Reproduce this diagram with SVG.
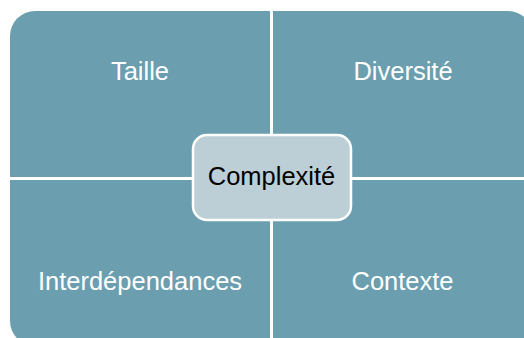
<svg xmlns="http://www.w3.org/2000/svg" width="524" height="338" viewBox="0 0 524 338">
<style>
.q{fill:#6b9faf;}
.lbl{font-family:"Liberation Sans",Arial,sans-serif;font-size:25.5px;fill:#ffffff;text-anchor:middle;}
.ctr{fill:#bccfd6;stroke:#ffffff;stroke-width:2.5;}
.ctxt{font-family:"Liberation Sans",Arial,sans-serif;font-size:25.5px;fill:#000000;text-anchor:middle;}
</style>
<rect width="524" height="338" fill="#ffffff"/>
<g id="taille">
<path class="q" d="M10,36 A25,25 0 0 1 35,11 L270,11 L270,177 L10,177 Z"/>
<text class="lbl" x="140" y="80">Taille</text>
</g>
<g id="diversite">
<path class="q" d="M273,11 L508,11 A25,25 0 0 1 533,36 L533,177 L273,177 Z"/>
<text class="lbl" x="403" y="79.5">Diversité</text>
</g>
<g id="interdependances">
<path class="q" d="M10,180 L270,180 L270,346 L35,346 A25,25 0 0 1 10,321 Z"/>
<text class="lbl" x="140" y="290">Interdépendances</text>
</g>
<g id="contexte">
<path class="q" d="M273,180 L533,180 L533,321 A25,25 0 0 1 508,346 L273,346 Z"/>
<text class="lbl" x="402.5" y="290">Contexte</text>
</g>
<g id="complexite">
<rect class="ctr" x="193" y="135" width="158" height="85" rx="14" ry="14"/>
<text class="ctxt" x="271.5" y="185">Complexité</text>
</g>
</svg>
